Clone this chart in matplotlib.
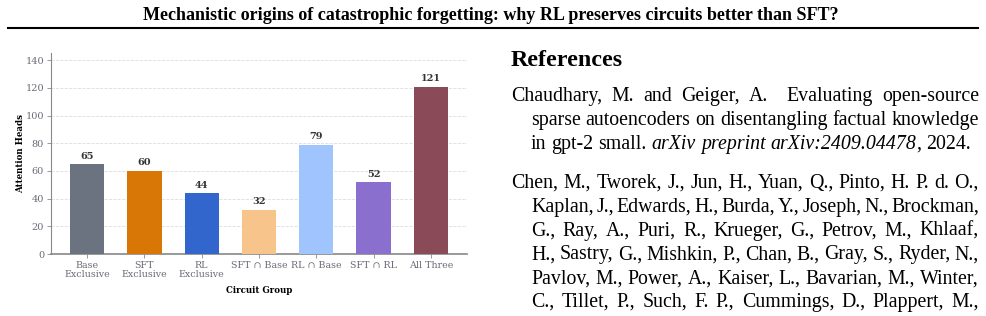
import matplotlib
matplotlib.use("AGG")
import matplotlib.pyplot as plt

# chart data
groups = ["Base\nExclusive", "SFT\nExclusive", "RL\nExclusive",
          "SFT \u2229 Base", "RL \u2229 Base", "SFT \u2229 RL", "All Three"]
heads = [65, 60, 44, 32, 79, 52, 121]
bar_colors = ["#6b7280", "#d97706", "#3366cc", "#f7c58c", "#a0c4fe", "#8b6fce", "#8b4a58"]

page_title = "Mechanistic origins of catastrophic forgetting: why RL preserves circuits better than SFT?"

# reference lines as laid out on the page; words in *stars* are italic
ref1 = [
    "Chaudhary, M. and Geiger, A.  Evaluating open-source",
    "sparse autoencoders on disentangling factual knowledge",
    "in gpt-2 small. *arXiv* *preprint* *arXiv:2409.04478*, 2024.",
]
ref2 = [
    "Chen, M., Tworek, J., Jun, H., Yuan, Q., Pinto, H. P. d. O.,",
    "Kaplan, J., Edwards, H., Burda, Y., Joseph, N., Brockman,",
    "G., Ray, A., Puri, R., Krueger, G., Petrov, M., Khlaaf,",
    "H., Sastry, G., Mishkin, P., Chan, B., Gray, S., Ryder, N.,",
    "Pavlov, M., Power, A., Kaiser, L., Bavarian, M., Winter,",
    "C., Tillet, P., Such, F. P., Cummings, D., Plappert, M.,",
]

W, H = 987, 316
fig = plt.figure(figsize=(W / 100, H / 100), dpi=100)
serif = "Liberation Serif"

def px(x, y):
    return x / W, 1 - y / H

# page header
fig.text(*px(491, 20), page_title, ha="center", va="baseline",
         family=serif, weight="bold", fontsize=13.0)
fig.add_artist(plt.Line2D([8 / W, 978 / W], [1 - 27.5 / H] * 2, color="black", lw=1.5))

# ---- bar chart ----
ax = fig.add_axes([51 / W, 1 - 254 / H, (467 - 51) / W, (254 - 53) / H])
x = range(len(groups))
bars = ax.bar(x, heads, width=0.6, color=bar_colors, zorder=3)
for b, v in zip(bars, heads):
    ax.text(b.get_x() + b.get_width() / 2, v + 2.5, str(v), ha="center", va="bottom",
            family="DejaVu Serif", weight="bold", fontsize=7, color="#333333")
ax.set_ylim(0, max(heads) * 1.2)
ax.set_yticks(range(0, 141, 20))
ax.set_xticks(list(x))
ax.set_xticklabels(groups, family="DejaVu Serif", fontsize=6.8, color="#6b6b78", linespacing=1.0)
for t in ax.get_yticklabels():
    t.set_family("DejaVu Serif")
    t.set_fontsize(7)
    t.set_color("#6b6b78")
ax.tick_params(axis="both", length=3, width=0.6, color="#888888", pad=2)
ax.set_ylabel("Attention Heads", family="DejaVu Serif", weight="bold", fontsize=6.2, labelpad=0)
ax.set_xlabel("Circuit Group", family="DejaVu Serif", weight="bold", fontsize=6.2, labelpad=5)
ax.grid(axis="y", linestyle="--", color="#dddddd", linewidth=0.6, zorder=0)
for s in ["top", "right"]:
    ax.spines[s].set_visible(False)
ax.spines["left"].set_color("#888888")
ax.spines["left"].set_linewidth(0.8)
ax.spines["bottom"].set_color("#888888")
ax.spines["bottom"].set_linewidth(1.2)

# ---- references column ----
fig.text(*px(511, 66), "References", ha="left", va="baseline",
         family=serif, weight="bold", fontsize=17.3)

body_size = 14.3
renderer = fig.canvas.get_renderer()

def word_width(txt, style):
    t = fig.text(0, 0, txt, family=serif, style=style, fontsize=body_size)
    w = t.get_window_extent(renderer).width
    t.remove()
    return w

def split_runs(word):
    # "*arXiv:2409.04478*," -> [("arXiv:2409.04478", "italic"), (",", "normal")]
    if not word.startswith("*"):
        return [(word, "normal")]
    inner, rest = word[1:].split("*", 1)
    runs = [(inner, "italic")]
    if rest:
        runs.append((rest, "normal"))
    return runs

def draw_line(line, x0, x1, y, justify):
    # a double space in the line gives a wider (sentence) gap
    words, gaps = [], []
    pending = 0
    for c in line.split(" "):
        if c == "":
            pending += 1
            continue
        if words:
            gaps.append(1.0 + pending)
        pending = 0
        words.append(c)
    pieces = [split_runs(w) for w in words]
    widths = [sum(word_width(t, s) for t, s in r) for r in pieces]
    if justify and len(words) > 1:
        unit = ((x1 - x0) - sum(widths)) / sum(gaps)
    else:
        unit = word_width("a a", "normal") - 2 * word_width("a", "normal")
    cx = x0
    for i, (runs, w) in enumerate(zip(pieces, widths)):
        rx = cx
        for t, s in runs:
            fig.text(rx / W, 1 - y / H, t, family=serif, style=s, fontsize=body_size,
                     ha="left", va="baseline")
            rx += word_width(t, s)
        cx += w
        if i < len(gaps):
            cx += unit * gaps[i]

def draw_ref(lines, y0, last_ragged):
    for i, line in enumerate(lines):
        x0 = 511 if i == 0 else 531
        ragged = last_ragged and i == len(lines) - 1
        draw_line(line, x0, 979, y0 + i * 23.8, not ragged)

draw_ref(ref1, 101, True)
draw_ref(ref2, 188, False)

fig.savefig("out.png", dpi=100)
